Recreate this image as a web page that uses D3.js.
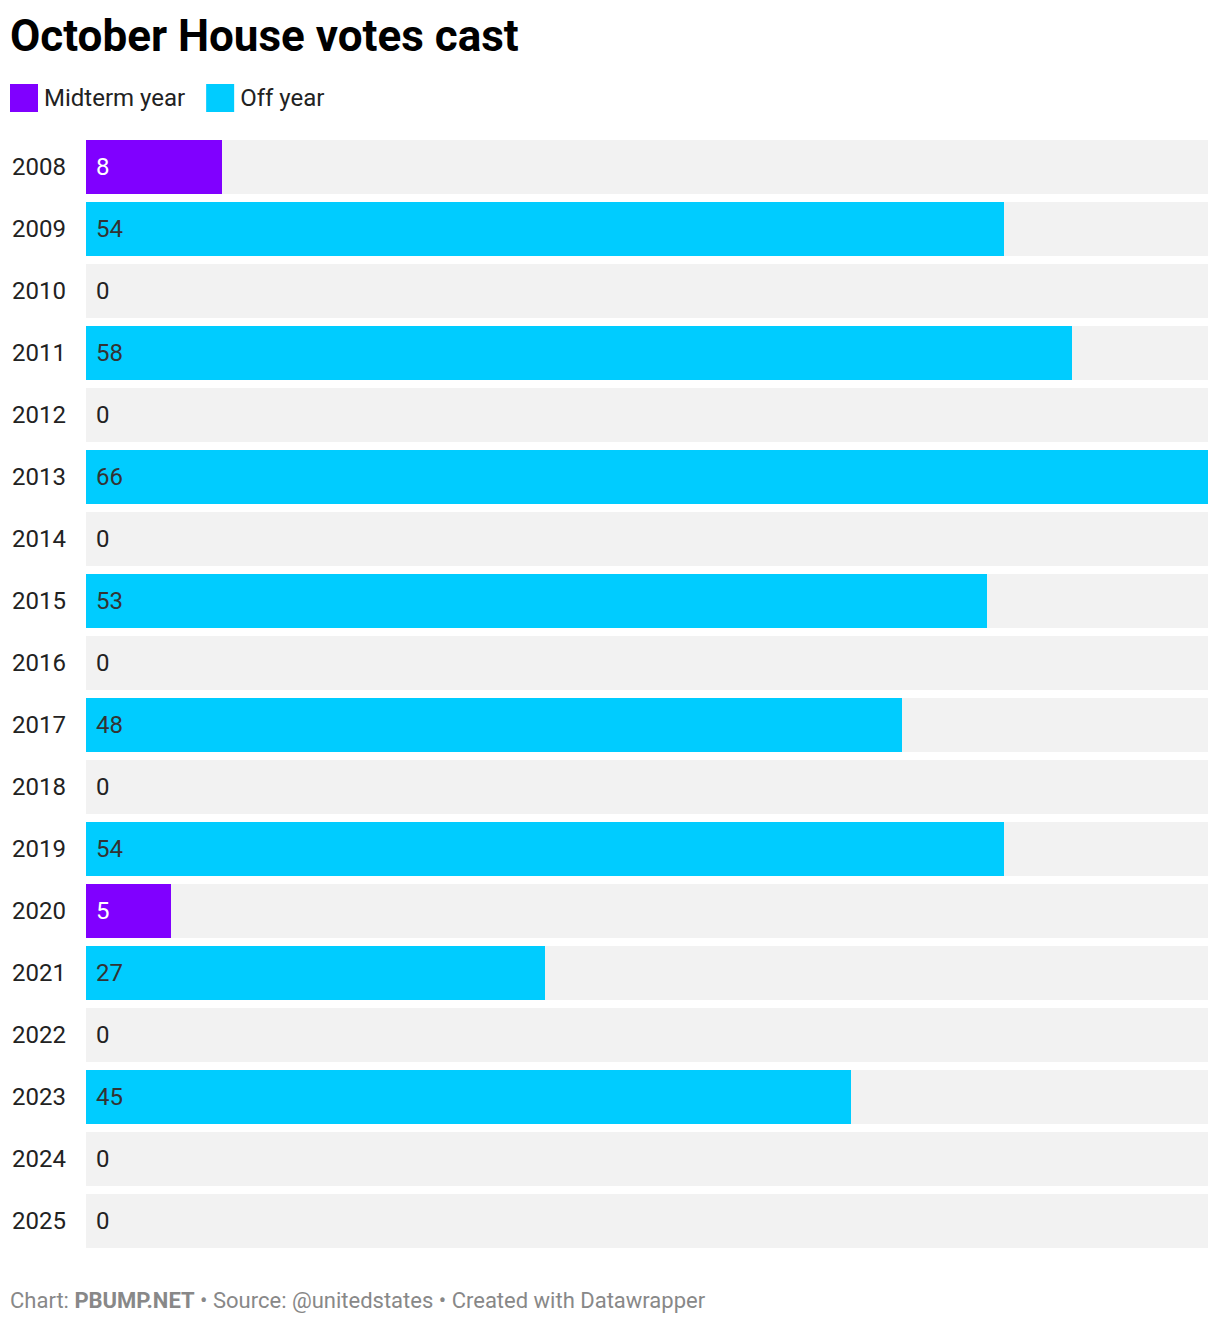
<!DOCTYPE html>
<html>
<head>
<meta charset="utf-8">
<script src="https://cdn.jsdelivr.net/npm/d3@7"></script>
<style>
  body { margin: 0; background: #fff; font-family: Roboto, sans-serif; }
</style>
</head>
<body>
<div id="chart"></div>
<script>
///////////////////////////
// DATA
///////////////////////////

const years = ['2008', '2009', '2010', '2011', '2012', '2013', '2014', '2015', '2016',
    '2017', '2018', '2019', '2020', '2021', '2022', '2023', '2024', '2025'];
const votes = [8, 54, 0, 58, 0, 66, 0, 53, 0, 48, 0, 54, 5, 27, 0, 45, 0, 0];
const types = ['Midterm year', 'Off year', 'Off year', 'Off year', 'Off year', 'Off year',
    'Off year', 'Off year', 'Off year', 'Off year', 'Off year', 'Off year',
    'Midterm year', 'Off year', 'Off year', 'Off year', 'Off year', 'Off year'];
const legendItems = ['Midterm year', 'Off year'];

const colors = { 'Midterm year': '#8000ff', 'Off year': '#00ccff' };
const labelColors = { 'Midterm year': '#ffffff', 'Off year': '#333333' };

const rows = years.map((y, i) => ({ year: y, value: votes[i], type: types[i] }));

///////////////////////////
// CHART
///////////////////////////

const width = 1220;
const height = 1324;

const svg = d3.select('#chart')
    .append('svg')
    .attr('width', width)
    .attr('height', height);

svg.append('text')
    .attr('x', 10)
    .attr('y', 51)
    .style('font-size', '44px')
    .style('font-weight', 700)
    .style('fill', '#000')
    .text('October House votes cast');

// legend
let lx = 10;
legendItems.forEach((name) => {
    svg.append('rect')
        .attr('x', lx)
        .attr('y', 84)
        .attr('width', 28)
        .attr('height', 28)
        .style('fill', colors[name]);
    const t = svg.append('text')
        .attr('x', lx + 34)
        .attr('y', 106)
        .style('font-size', '24px')
        .style('fill', '#222')
        .text(name);
    lx += 34 + t.node().getComputedTextLength() + 21;
});

const x = d3.scaleLinear()
    .domain([0, d3.max(votes)])
    .range([86, 1208]);

const y = d3.scaleBand()
    .domain(years)
    .range([140, 1248])
    .paddingInner(8 / 62)
    .paddingOuter(0)
    .align(0);

const row = svg.selectAll('.row')
    .data(rows)
    .enter().append('g')
    .attr('class', 'row')
    .attr('transform', (d) => `translate(0,${y(d.year)})`);

row.append('rect')
    .attr('x', x(0))
    .attr('width', x.range()[1] - x(0))
    .attr('height', y.bandwidth())
    .style('fill', '#f2f2f2');

row.append('rect')
    .attr('x', x(0))
    .attr('width', (d) => x(d.value) - x(0))
    .attr('height', y.bandwidth())
    .style('fill', (d) => colors[d.type]);

row.append('text')
    .attr('x', 12)
    .attr('y', y.bandwidth() / 2)
    .attr('dy', '0.35em')
    .style('font-size', '24px')
    .style('fill', '#222')
    .text((d) => d.year);

row.append('text')
    .attr('x', x(0) + 10)
    .attr('y', y.bandwidth() / 2)
    .attr('dy', '0.35em')
    .style('font-size', '24px')
    .style('fill', (d) => d.value > 0 ? labelColors[d.type] : '#222')
    .text((d) => d.value);

// footer
const foot = svg.append('text')
    .attr('x', 10)
    .attr('y', 1308)
    .style('font-size', '22px')
    .style('fill', '#888');
foot.append('tspan').text('Chart: ');
foot.append('tspan').style('font-weight', 700).text('PBUMP.NET');
foot.append('tspan').text(' \u2022 Source: @unitedstates \u2022 Created with Datawrapper');
</script>
</body>
</html>
